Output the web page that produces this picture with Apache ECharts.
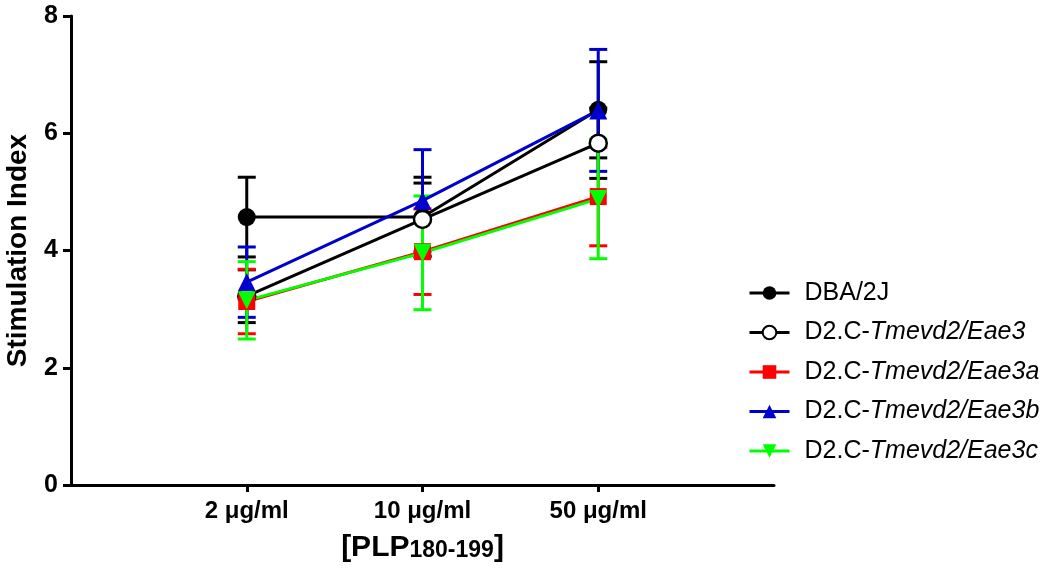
<!DOCTYPE html>
<html>
<head>
<meta charset="utf-8">
<script src="https://cdn.jsdelivr.net/npm/echarts@6/dist/echarts.min.js"></script>
<style>html,body{margin:0;padding:0;background:#fff}#c{width:1050px;height:568px}</style>
</head>
<body>
<div id="c"></div>
<script>
const categories = ['2 μg/ml', '10 μg/ml', '50 μg/ml'];
const xPositions = [1, 2, 3];
const yTicks = [0, 2, 4, 6, 8];

const seriesNames = ['DBA/2J', 'D2.C-Tmevd2/Eae3', 'D2.C-Tmevd2/Eae3a', 'D2.C-Tmevd2/Eae3b', 'D2.C-Tmevd2/Eae3c'];

const dbaMean = [4.57, 4.57, 6.40];
const dbaErr = [0.68, 0.68, 0.82];
const eae3Mean = [3.22, 4.53, 5.83];
const eae3Err = [0.45, 0.62, 0.60];
const eae3aMean = [3.13, 3.98, 4.92];
const eae3aErr = [0.55, 0.73, 0.84];
const eae3bMean = [3.46, 4.85, 6.39];
const eae3bErr = [0.60, 0.87, 1.04];
const eae3cMean = [3.15, 3.96, 4.88];
const eae3cErr = [0.66, 0.97, 1.02];

const styles = [
  { color: '#000000', symbol: 'circle', fill: '#000000', rotate: 0, size: 18 },
  { color: '#000000', symbol: 'circle', fill: '#ffffff', rotate: 0, size: 17 },
  { color: '#ff0000', symbol: 'rect', fill: '#ff0000', rotate: 0, size: 17 },
  { color: '#0000cc', symbol: 'triangle', fill: '#0000cc', rotate: 0, size: 18 },
  { color: '#00ff00', symbol: 'triangle', fill: '#00ff00', rotate: 180, size: 18 }
];
const means = [dbaMean, eae3Mean, eae3aMean, eae3bMean, eae3cMean];
const errs = [dbaErr, eae3Err, eae3aErr, eae3bErr, eae3cErr];

const FONT = 'Liberation Sans, Arial, sans-serif';

const series = [];
seriesNames.forEach((name, i) => {
  const st = styles[i];
  const rows = xPositions.map((x, j) => [x, means[i][j], errs[i][j]]);
  series.push({
    type: 'custom',
    name: name + ' err',
    data: rows,
    silent: true,
    renderItem: function (params, api) {
      const x = api.value(0), y = api.value(1), e = api.value(2);
      const top = api.coord([x, y + e]);
      const bot = api.coord([x, y - e]);
      const hw = 9;
      const s = { stroke: st.color, lineWidth: 3 };
      return {
        type: 'group',
        children: [
          { type: 'line', shape: { x1: top[0], y1: top[1], x2: bot[0], y2: bot[1] }, style: s },
          { type: 'line', shape: { x1: top[0] - hw, y1: top[1], x2: top[0] + hw, y2: top[1] }, style: s },
          { type: 'line', shape: { x1: bot[0] - hw, y1: bot[1], x2: bot[0] + hw, y2: bot[1] }, style: s }
        ]
      };
    }
  });
  series.push({
    type: 'line',
    name: name,
    data: xPositions.map((x, j) => [x, means[i][j]]),
    symbol: st.symbol,
    symbolSize: st.size,
    symbolRotate: st.rotate,
    showAllSymbol: true,
    lineStyle: { color: st.color, width: 3 },
    itemStyle: { color: st.fill, borderColor: st.color, borderWidth: i === 1 ? 2.5 : 0 },
    emphasis: { disabled: true },
    animation: false
  });
});

const chart = echarts.init(document.getElementById('c'), null, { renderer: 'canvas' });
chart.setOption({
  animation: false,
  backgroundColor: '#ffffff',
  grid: { left: 71, right: 276, top: 16, bottom: 83, containLabel: false, outerBoundsMode: 'none' },
  xAxis: {
    type: 'value',
    min: 0, max: 4, interval: 1,
    name: '{m|[PLP}{sub|180-199}{m|]}',
    nameLocation: 'middle',
    nameGap: 48,
    nameTextStyle: {
      fontFamily: FONT, fontWeight: 'bold', fontSize: 30, color: '#000',
      rich: {
        m: { fontFamily: FONT, fontWeight: 'bold', fontSize: 30, color: '#000', padding: [0, 0, 6, 0] },
        sub: { fontFamily: FONT, fontWeight: 'bold', fontSize: 23, color: '#000' }
      }
    },
    axisLine: { show: true, onZero: false, lineStyle: { color: '#000', width: 3 } },
    axisTick: { show: true, customValues: xPositions, length: 7, lineStyle: { color: '#000', width: 3 } },
    axisLabel: {
      customValues: xPositions,
      formatter: v => categories[xPositions.indexOf(v)] || '',
      fontFamily: FONT, fontWeight: 'bold', fontSize: 24, color: '#000', margin: 14
    },
    splitLine: { show: false }
  },
  yAxis: {
    type: 'value',
    min: 0, max: 8, interval: 2,
    name: 'Stimulation Index',
    nameLocation: 'middle',
    nameGap: 39,
    nameRotate: 90,
    nameTextStyle: { fontFamily: FONT, fontWeight: 'bold', fontSize: 28, color: '#000' },
    axisLine: { show: true, lineStyle: { color: '#000', width: 3 } },
    axisTick: { show: true, length: 8, lineStyle: { color: '#000', width: 3 } },
    axisLabel: {
      formatter: v => (yTicks.indexOf(v) >= 0 ? String(v) : ''),
      fontFamily: FONT, fontWeight: 'bold', fontSize: 25, color: '#000', margin: 13
    },
    splitLine: { show: false }
  },
  legend: {
    orient: 'vertical',
    left: 743,
    top: 275,
    itemWidth: 40,
    itemHeight: 17,
    itemGap: 13.5,
    data: seriesNames,
    lineStyle: { width: 3 },
    formatter: n => n.indexOf('D2.C-') === 0 ? 'D2.C-{i|' + n.slice(5) + '}' : n,
    textStyle: {
      fontFamily: FONT, fontSize: 25, color: '#000', lineHeight: 26, padding: [0, 0, 0, 10],
      rich: { i: { fontFamily: FONT, fontStyle: 'italic', fontSize: 25, color: '#000', lineHeight: 26 } }
    },
    selectedMode: false
  },
  series: series
});
</script>
</body>
</html>
